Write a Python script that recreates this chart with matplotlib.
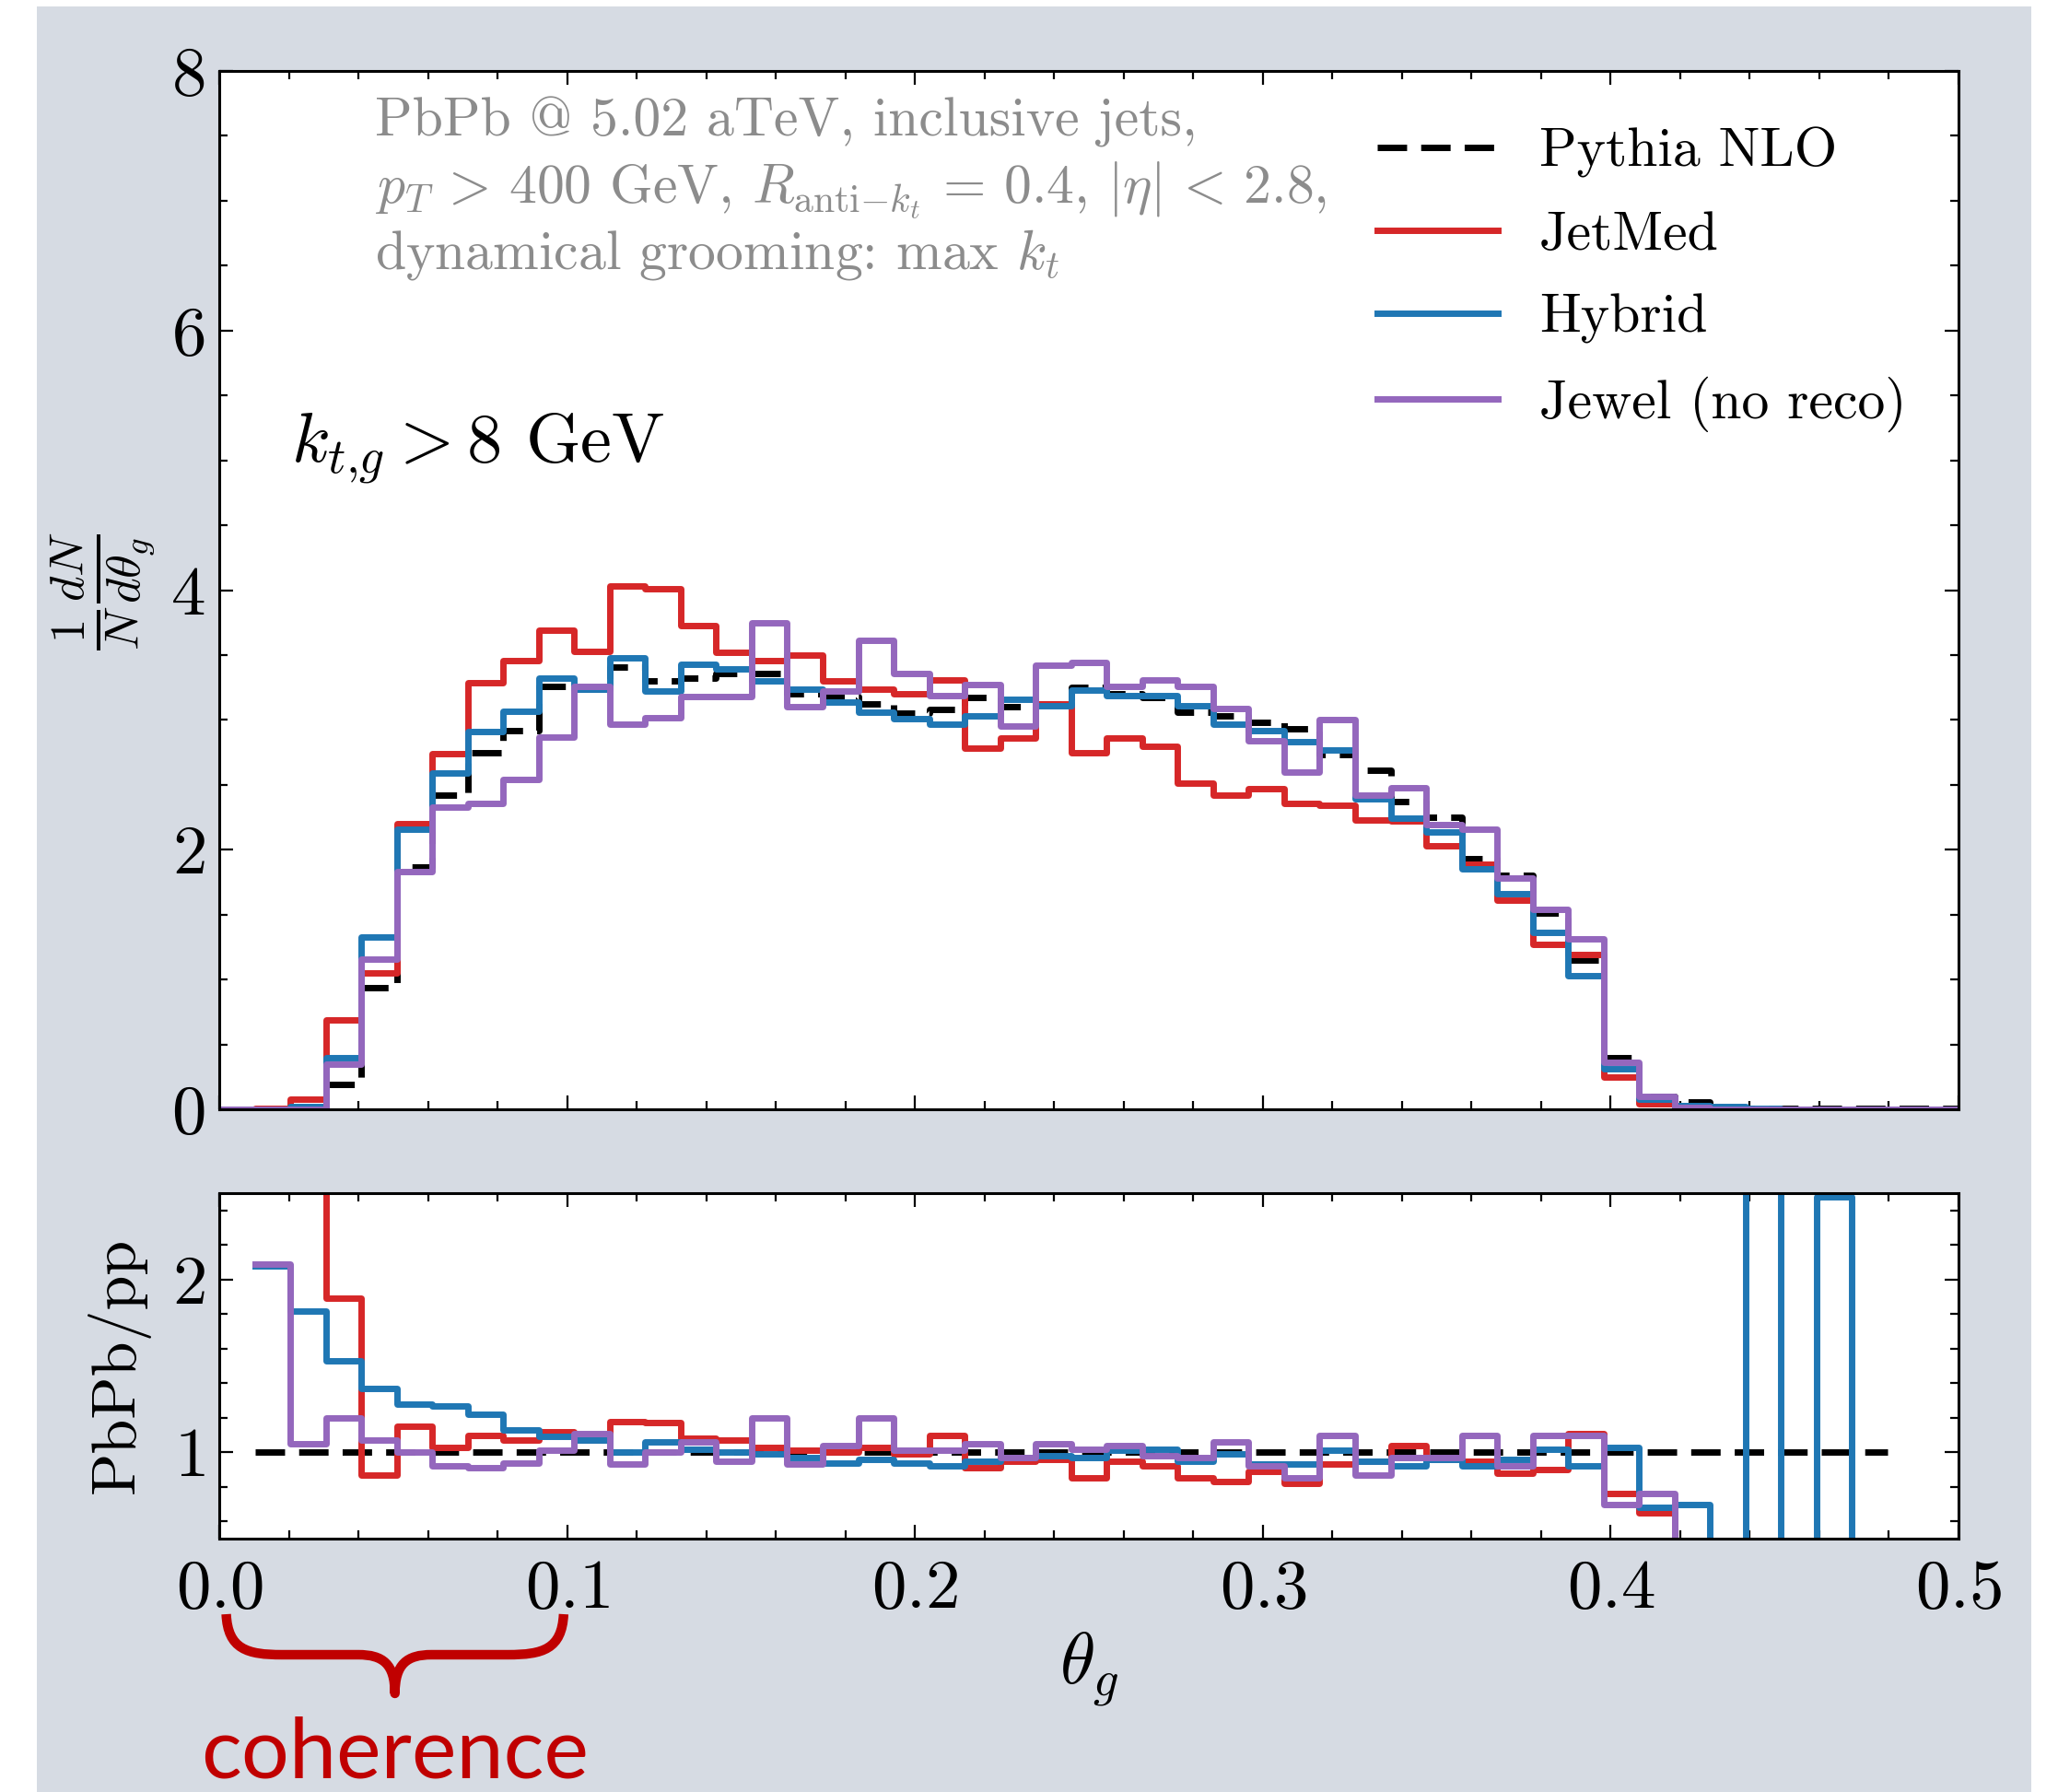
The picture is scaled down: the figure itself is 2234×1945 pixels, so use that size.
import numpy as np
import matplotlib
matplotlib.use("Agg")
import matplotlib.pyplot as plt
from matplotlib.ticker import MultipleLocator
from matplotlib.patches import Rectangle, PathPatch
from matplotlib.path import Path
import matplotlib.transforms as mtrans

plt.rcParams.update({
    "font.family": "serif",
    "font.serif": ["cmr10"],
    "mathtext.fontset": "cm",
    "axes.formatter.use_mathtext": True,
})

# ---------------- data ----------------
edges = np.linspace(0.0, 0.5, 50)   # 49 bins in theta_g

labels = ["Pythia NLO", "JetMed", "Hybrid", "Jewel (no reco)"]
colors = ["black", "#d62728", "#1f77b4", "#9467bd"]

pythia = [0.0, 0.0, 0.01, 0.19, 0.94, 1.87, 2.42, 2.75, 2.92, 3.26,
          3.24, 3.41, 3.30, 3.32, 3.36, 3.36, 3.20, 3.18, 3.12, 3.05,
          3.08, 3.17, 3.10, 3.12, 3.25, 3.20, 3.17, 3.06, 3.03, 2.98,
          2.93, 2.73, 2.61, 2.37, 2.25, 1.93, 1.80, 1.51, 1.15, 0.40,
          0.10, 0.057, 0.01, 0.005, 0.005, 0.005, 0.005, 0.005, 0.005]
jetmed = [0.0, 0.01, 0.08, 0.69, 1.05, 2.20, 2.74, 3.29, 3.46, 3.69,
          3.53, 4.03, 4.01, 3.73, 3.52, 3.46, 3.50, 3.30, 3.24, 3.20,
          3.31, 2.78, 2.86, 3.12, 2.75, 2.86, 2.80, 2.51, 2.42, 2.47,
          2.36, 2.34, 2.23, 2.22, 2.03, 1.89, 1.61, 1.27, 1.19, 0.25,
          0.04, 0.01, 0.003, 0.003, 0.003, 0.003, 0.003, 0.003, 0.003]
hybrid = [0.0, 0.0, 0.02, 0.40, 1.33, 2.16, 2.59, 2.91, 3.07, 3.32,
          3.24, 3.48, 3.22, 3.43, 3.39, 3.30, 3.24, 3.14, 3.06, 3.01,
          2.97, 3.03, 3.16, 3.11, 3.23, 3.19, 3.19, 3.11, 2.97, 2.92,
          2.83, 2.77, 2.39, 2.24, 2.14, 1.85, 1.66, 1.36, 1.03, 0.31,
          0.08, 0.03, 0.02, 0.005, 0.003, 0.003, 0.003, 0.003, 0.003]
jewel = [0.0, 0.0, 0.0, 0.35, 1.16, 1.83, 2.33, 2.36, 2.54, 2.87,
         3.26, 2.97, 3.02, 3.18, 3.18, 3.75, 3.10, 3.22, 3.61, 3.36,
         3.19, 3.27, 2.95, 3.42, 3.44, 3.26, 3.31, 3.26, 3.09, 2.84,
         2.60, 3.00, 2.42, 2.48, 2.19, 2.16, 1.78, 1.54, 1.31, 0.36,
         0.10, 0.015, 0.003, 0.003, 0.003, 0.003, 0.003, 0.003, 0.003]

nan = np.nan
ratio_pythia = [nan] + [1.0] * 46 + [nan, nan]
ratio_jetmed = [nan, nan, 6.0, 1.89, 0.87, 1.15, 1.03, 1.10, 1.07, 1.12,
                1.07, 1.18, 1.17, 1.08, 1.07, 1.03, 1.01, 1.00, 1.03, 0.99,
                1.10, 0.91, 0.95, 0.96, 0.85, 0.95, 0.92, 0.85, 0.83, 0.89,
                0.82, 0.93, 0.95, 1.04, 0.96, 0.95, 0.88, 0.90, 1.11, 0.76,
                0.65, 0.30, nan, nan, nan, nan, nan, nan, nan]
ratio_hybrid = [nan, 2.08, 1.82, 1.53, 1.37, 1.28, 1.27, 1.22, 1.13, 1.09,
                1.07, 1.00, 1.06, 1.02, 1.00, 0.99, 0.97, 0.94, 0.96, 0.94,
                0.92, 0.95, 0.97, 0.98, 0.97, 1.01, 1.02, 0.95, 0.99, 0.93,
                0.93, 1.01, 0.95, 0.92, 0.96, 0.92, 0.96, 1.02, 0.92, 1.03,
                0.68, 0.70, 0.20, 5.00, 0.20, 2.48, 0.20, nan, nan]
ratio_jewel = [nan, 2.09, 1.05, 1.20, 1.07, 1.00, 0.92, 0.91, 0.94, 1.01,
               1.11, 0.93, 1.00, 1.06, 0.95, 1.20, 0.93, 1.04, 1.20, 1.01,
               1.01, 1.05, 0.97, 1.05, 1.02, 1.04, 0.98, 0.97, 1.06, 0.92,
               0.85, 1.10, 0.87, 0.97, 0.97, 1.10, 0.92, 1.10, 1.10, 0.70,
               0.76, 0.30, nan, nan, nan, nan, nan, nan, nan]

main_series = [pythia, jetmed, hybrid, jewel]
ratio_series = [ratio_pythia, ratio_jetmed, ratio_hybrid, ratio_jewel]

# ---------------- figure ----------------
W, H = 2234, 1945
fig = plt.figure(figsize=(W / 100, H / 100), dpi=100, facecolor="white")
fig.add_artist(Rectangle((40 / W, 0), (2205 - 40) / W, (H - 7) / H,
                         transform=fig.transFigure, facecolor="#d6dbe3",
                         edgecolor="none", zorder=-10))

L, R = 238, 2126
ax = fig.add_axes([L / W, 1 - 1204 / H, (R - L) / W, (1204 - 77) / H])
ax2 = fig.add_axes([L / W, 1 - 1670 / H, (R - L) / W, (1670 - 1295) / H])

lw = 5.0
dash = (0, (4.6, 2.2))
for vals, lab, col in zip(main_series, labels, colors):
    v = np.asarray(vals, float)
    ls = dash if lab == "Pythia NLO" else "-"
    ax.step(edges, np.append(v, v[-1]), where="post", color=col, lw=lw,
            ls=ls, label=lab)
for vals, lab, col in zip(ratio_series, labels, colors):
    v = np.asarray(vals, float)
    ls = dash if lab == "Pythia NLO" else "-"
    ax2.step(edges, np.append(v, v[-1]), where="post", color=col, lw=lw, ls=ls)

ax.set_xlim(0, 0.5)
ax.set_ylim(0, 8)
ax2.set_xlim(0, 0.5)
ax2.set_ylim(0.5, 2.5)

for a in (ax, ax2):
    a.set_facecolor("white")
    a.xaxis.set_major_locator(MultipleLocator(0.1))
    a.xaxis.set_minor_locator(MultipleLocator(0.02))
    a.tick_params(which="both", direction="in", top=True, right=True,
                  labelsize=54, width=1.6, pad=11)
    a.tick_params(which="major", length=11)
    a.tick_params(which="minor", length=6.5)
    for s in a.spines.values():
        s.set_linewidth(2.2)
ax.yaxis.set_major_locator(MultipleLocator(2))
ax.yaxis.set_minor_locator(MultipleLocator(0.5))
ax.tick_params(labelbottom=False)
ax2.yaxis.set_major_locator(MultipleLocator(1))
ax2.yaxis.set_minor_locator(MultipleLocator(0.2))
ax2.tick_params(axis="x", pad=16)

leg = ax.legend(loc="upper left", bbox_to_anchor=(1495 / W, 1 - 138 / H),
                bbox_transform=fig.transFigure, frameon=False, fontsize=43,
                handlelength=2.2, handletextpad=0.75, labelspacing=0.60,
                borderpad=0, borderaxespad=0)

grey = "#8c8c8c"
fs_ann = 43
fig.text(407 / W, 1 - 148 / H, "PbPb @ 5.02 aTeV, inclusive jets,",
         color=grey, fontsize=fs_ann, va="baseline")
fig.text(407 / W, 1 - 220 / H,
         r"$p_T\, >\, 400$ GeV, $R_{\mathrm{anti}{-}k_t}\, =\, 0.4$, $|\eta|\, <\, 2.8$,",
         color=grey, fontsize=fs_ann, va="baseline")
fig.text(407 / W, 1 - 291 / H, r"dynamical grooming: max $k_t$",
         color=grey, fontsize=fs_ann, va="baseline")
fig.text(316 / W, 1 - 502 / H, r"$k_{t{,}g} > 8$ GeV", color="black",
         fontsize=55, va="baseline")

fig.text(112 / W, 1 - 641 / H, r"$\frac{1}{N}\frac{dN}{d\theta_g}$",
         rotation=90, ha="center", va="center", fontsize=54)
fig.text(128 / W, 1 - 1482 / H, "PbPb/pp", rotation=90, ha="center",
         va="center", fontsize=49)
fig.text(1182 / W, 1 - 1812 / H, r"$\theta_g$", ha="center", va="center",
         fontsize=56)

# coherence brace
red = "#c00000"
tr = mtrans.blended_transform_factory(ax2.transData, fig.transFigure)
def fy(px):
    return 1 - px / H
verts = [(0.0020, fy(1752)), (0.0025, fy(1790)), (0.008, fy(1796)), (0.018, fy(1796)),
         (0.040, fy(1796)),
         (0.047, fy(1796)), (0.0505, fy(1806)), (0.0505, fy(1838)),
         (0.0505, fy(1806)), (0.054, fy(1796)), (0.061, fy(1796)),
         (0.083, fy(1796)),
         (0.093, fy(1796)), (0.0985, fy(1790)), (0.0990, fy(1752))]
codes = [Path.MOVETO, Path.CURVE4, Path.CURVE4, Path.CURVE4,
         Path.LINETO,
         Path.CURVE4, Path.CURVE4, Path.CURVE4,
         Path.CURVE4, Path.CURVE4, Path.CURVE4,
         Path.LINETO,
         Path.CURVE4, Path.CURVE4, Path.CURVE4]
brace = PathPatch(Path(verts, codes), transform=tr, facecolor="none",
                  edgecolor=red, lw=7.5, clip_on=False, capstyle="butt",
                  joinstyle="round")
fig.add_artist(brace)
fig.text(429 / W, 1 - 1930 / H, "coherence", color=red, fontsize=66,
         family="Lato", ha="center", va="baseline")

fig.savefig("out.png", dpi=100, facecolor="white")
